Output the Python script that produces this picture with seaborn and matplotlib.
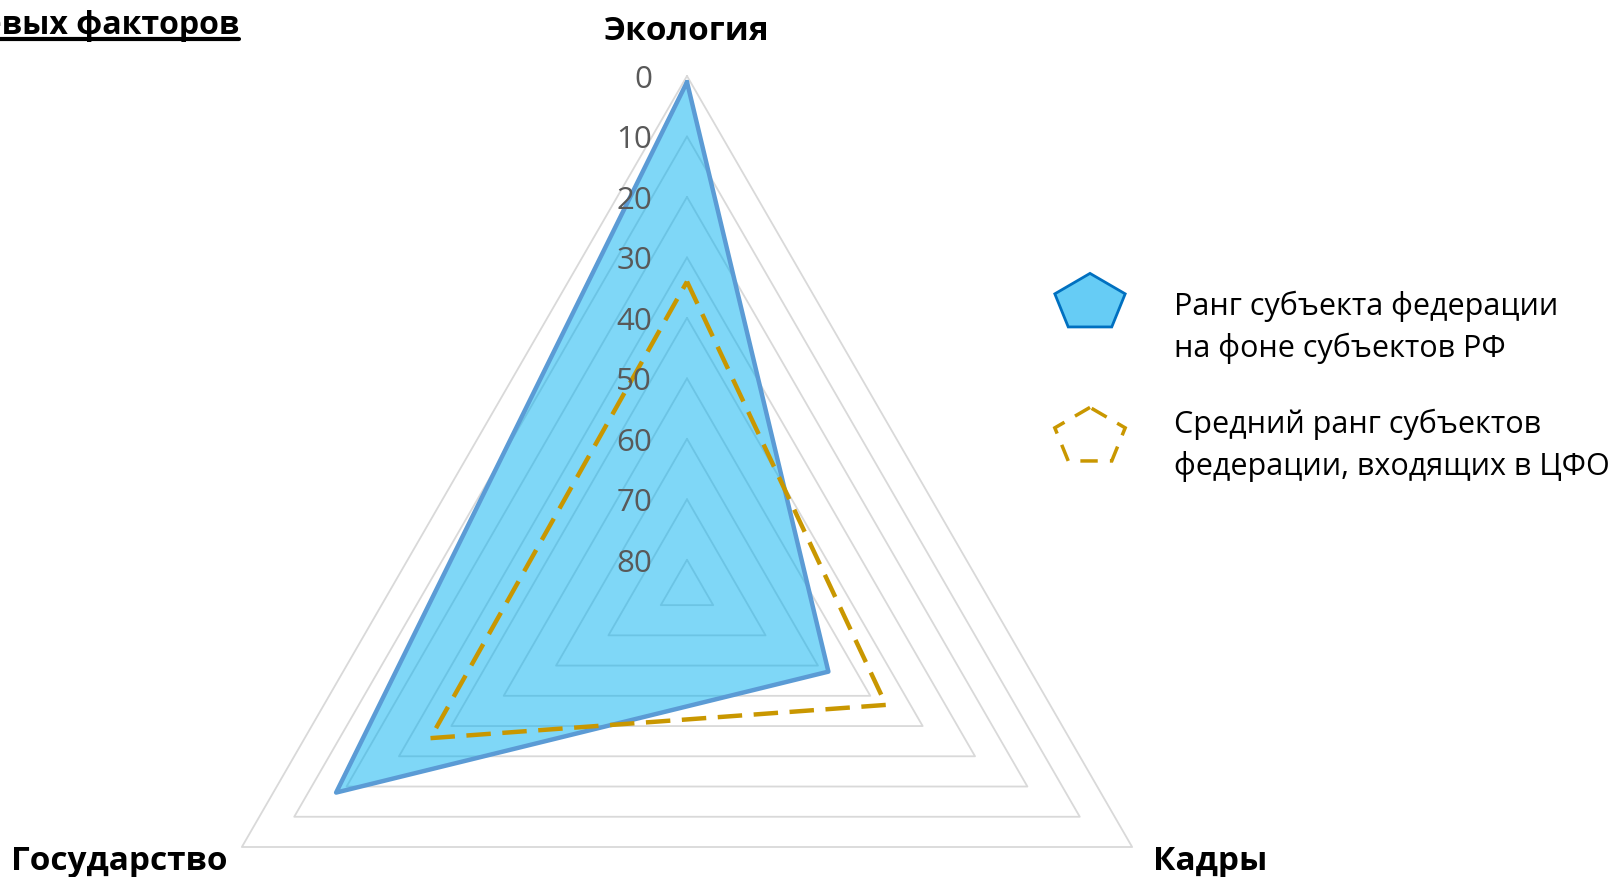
import numpy as np
import matplotlib
matplotlib.use("Agg")
import matplotlib.pyplot as plt
import seaborn as sns
from matplotlib.patches import Polygon
from matplotlib.lines import Line2D

# ---- data ----
categories = ["Экология", "Кадры", "Государство"]
region_rank = [1, 58, 18]          # Ранг субъекта федерации на фоне субъектов РФ
cfo_avg_rank = [34, 47, 36]        # Средний ранг субъектов федерации, входящих в ЦФО
rank_ticks = [0, 10, 20, 30, 40, 50, 60, 70, 80]
rank_max = 85
legend_labels = ["Ранг субъекта федерации\nна фоне субъектов РФ",
                 "Средний ранг субъектов\nфедерации, входящих в ЦФО"]
title_text = "Ранг ключевых факторов"

sns.set_theme(style="white")
plt.rcParams['font.family'] = ['Open Sans', 'DejaVu Sans']

W, H = 1618, 878
fig = plt.figure(figsize=(W / 100, H / 100), dpi=100)

cx, cy, R = 687, 591, 514
ax = fig.add_axes([(cx - R) / W, (H - cy - R) / H, 2 * R / W, 2 * R / H], projection='polar')
ax.set_theta_offset(np.pi / 2)
ax.set_theta_direction(-1)
ax.grid(False)
ax.spines['polar'].set_visible(False)
ax.patch.set_alpha(0)

n = len(categories)
theta = [2 * np.pi * i / n for i in range(n)] + [2 * np.pi]

# polygon grid
for v in rank_ticks:
    ax.plot(theta, [v] * (n + 1), color='#d9d9d9', lw=1.3, zorder=1, clip_on=False)

# series
r1 = region_rank + region_rank[:1]
r2 = cfo_avg_rank + cfo_avg_rank[:1]
ax.fill(theta, r1, color='#00B0F0', alpha=0.5, lw=0, zorder=2)
sns.lineplot(x=theta, y=r1, sort=False, estimator=None, ax=ax, color='#5B9BD5', lw=3.2, zorder=3)
sns.lineplot(x=theta, y=r2, sort=False, estimator=None, ax=ax, color='#C99700', lw=3.2,
             linestyle=(0, (5.5, 2.6)), zorder=4)
ax.set_xlabel("")
ax.set_ylabel("")
ax.set_xticks([])
ax.set_yticks([])
ax.set_ylim(rank_max, 0)

# tick labels along the top axis
for v in rank_ticks:
    ax.annotate(str(v), xy=(0, v), xytext=(-35, -3), textcoords='offset pixels',
                ha='right', va='center', fontsize=22.5, color='#595959', zorder=5)

# category labels
fs_cat = 24
fig.text(687 / W, 1 - 32 / H, categories[0], ha='center', va='center', fontsize=fs_cat, fontweight='bold', color='black')
fig.text(1210 / W, 1 - 862 / H, categories[1], ha='center', va='center', fontsize=fs_cat, fontweight='bold', color='black')
fig.text(119 / W, 1 - 862 / H, categories[2], ha='center', va='center', fontsize=fs_cat, fontweight='bold', color='black')

# title (cut off at left), underlined
t = fig.text(239 / W, 1 - 25 / H, title_text, ha='right', va='center', fontsize=23, fontweight='bold', color='black')
fig.canvas.draw()
bb = t.get_window_extent()
fig.add_artist(Line2D([bb.x0 / W, bb.x1 / W], [(bb.y0 + 2) / H, (bb.y0 + 2) / H],
                      transform=fig.transFigure, color='black', lw=3))

# legend
lax = fig.add_axes([0, 0, 1, 1])
lax.set_xlim(0, W)
lax.set_ylim(H, 0)
lax.axis('off')


def pentagon(xc, yc, rx, ry):
    ang = np.pi / 2 + 2 * np.pi * np.arange(5) / 5
    return np.column_stack([xc + rx * np.cos(ang), yc - ry * np.sin(ang)])


lax.add_patch(Polygon(pentagon(1090, 304, 37, 29.6), closed=True,
                      facecolor='#66CCF5', edgecolor='#0070C0', lw=2))
lax.add_patch(Polygon(pentagon(1090, 438, 37, 29.6), closed=True,
                      facecolor='none', edgecolor='#C99700', lw=2.5, linestyle=(0, (5, 3.5))))
fig.text(1174 / W, 1 - 327 / H, legend_labels[0], ha='left', va='center', fontsize=22,
         linespacing=1.45, color='black')
fig.text(1174 / W, 1 - 445 / H, legend_labels[1], ha='left', va='center', fontsize=22,
         linespacing=1.45, color='black')

fig.savefig("out.png", dpi=100)
